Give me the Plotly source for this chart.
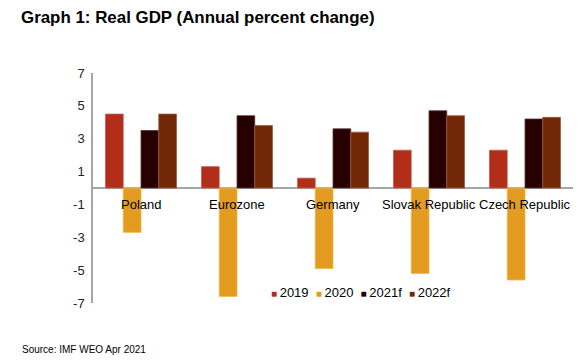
import plotly.graph_objects as go

categories = ["Poland", "Eurozone", "Germany", "Slovak Republic", "Czech Republic"]
series_names = ["2019", "2020", "2021f", "2022f"]
v2019 = [4.5, 1.3, 0.6, 2.3, 2.3]
v2020 = [-2.7, -6.6, -4.9, -5.2, -5.6]
v2021f = [3.5, 4.4, 3.6, 4.7, 4.2]
v2022f = [4.5, 3.8, 3.4, 4.4, 4.3]
y_ticks = [-7, -5, -3, -1, 1, 3, 5, 7]

colors = ["#B22E1A", "#E39C20", "#260000", "#722806"]
edges = ["#C8604A", "#F0B850", "#5A3030", "#9A5A40"]

FONT = "Liberation Sans, Arial, sans-serif"
L, R, T, B = 93, 7, 73, 61
W, H = 580, 364
PW, PH = W - L - R, H - T - B

def px_x(x):
    return (x - L) / PW

def px_y(y):
    return (H - B - y) / PH

fig = go.Figure()
for name, vals, c, e in zip(series_names, [v2019, v2020, v2021f, v2022f], colors, edges):
    fig.add_trace(go.Bar(x=categories, y=vals, name=name, showlegend=False,
                         marker=dict(color=c, line=dict(color=e, width=0.8))))

# category labels just under the zero line
for cat in categories:
    fig.add_annotation(x=cat, y=-1, xref="x", yref="y", text=cat, showarrow=False,
                       font=dict(family=FONT, size=13, color="#000000"))

# compact legend
legend_txt = "&nbsp;&nbsp;".join(
    f'<span style="color:{c};font-size:10px">&#9632;</span>&#8201;{n}' for n, c in zip(series_names, colors))
fig.add_annotation(x=px_x(269), y=px_y(292), xref="paper", yref="paper", xanchor="left", yanchor="middle",
                   showarrow=False, text=legend_txt, font=dict(family=FONT, size=13, color="#000000"))

fig.add_annotation(x=px_x(19), y=px_y(17), xref="paper", yref="paper",
                   xanchor="left", yanchor="middle", showarrow=False,
                   text="<b>Graph 1: Real GDP (Annual percent change)</b>",
                   font=dict(family=FONT, size=16.9, color="#000000"))
fig.add_annotation(x=px_x(20), y=px_y(349), xref="paper", yref="paper",
                   xanchor="left", yanchor="middle", showarrow=False,
                   text="Source: IMF WEO Apr 2021",
                   font=dict(family=FONT, size=10, color="#000000"))

fig.update_layout(
    width=W, height=H,
    margin=dict(l=L, r=R, t=T, b=B, autoexpand=False),
    paper_bgcolor="white", plot_bgcolor="white",
    barmode="group", bargap=0.26, bargroupgap=0,
    font=dict(family=FONT, size=13, color="#333333"),
    showlegend=False,
    xaxis=dict(showticklabels=False, showline=False, showgrid=False, zeroline=False, ticks=""),
    yaxis=dict(range=[-7, 7], tickvals=y_ticks, ticktext=[str(t) for t in y_ticks],
               showgrid=False, zeroline=True, zerolinecolor="#A6A6A6", zerolinewidth=1.5,
               showline=True, linecolor="#A6A6A6", linewidth=1.5, ticks="", ticklabelstandoff=4,
               tickfont=dict(family=FONT, size=13, color="#222222")),
)

fig.write_html("out.html", config={"displayModeBar": False},
               post_script="document.body.style.margin='0';")
